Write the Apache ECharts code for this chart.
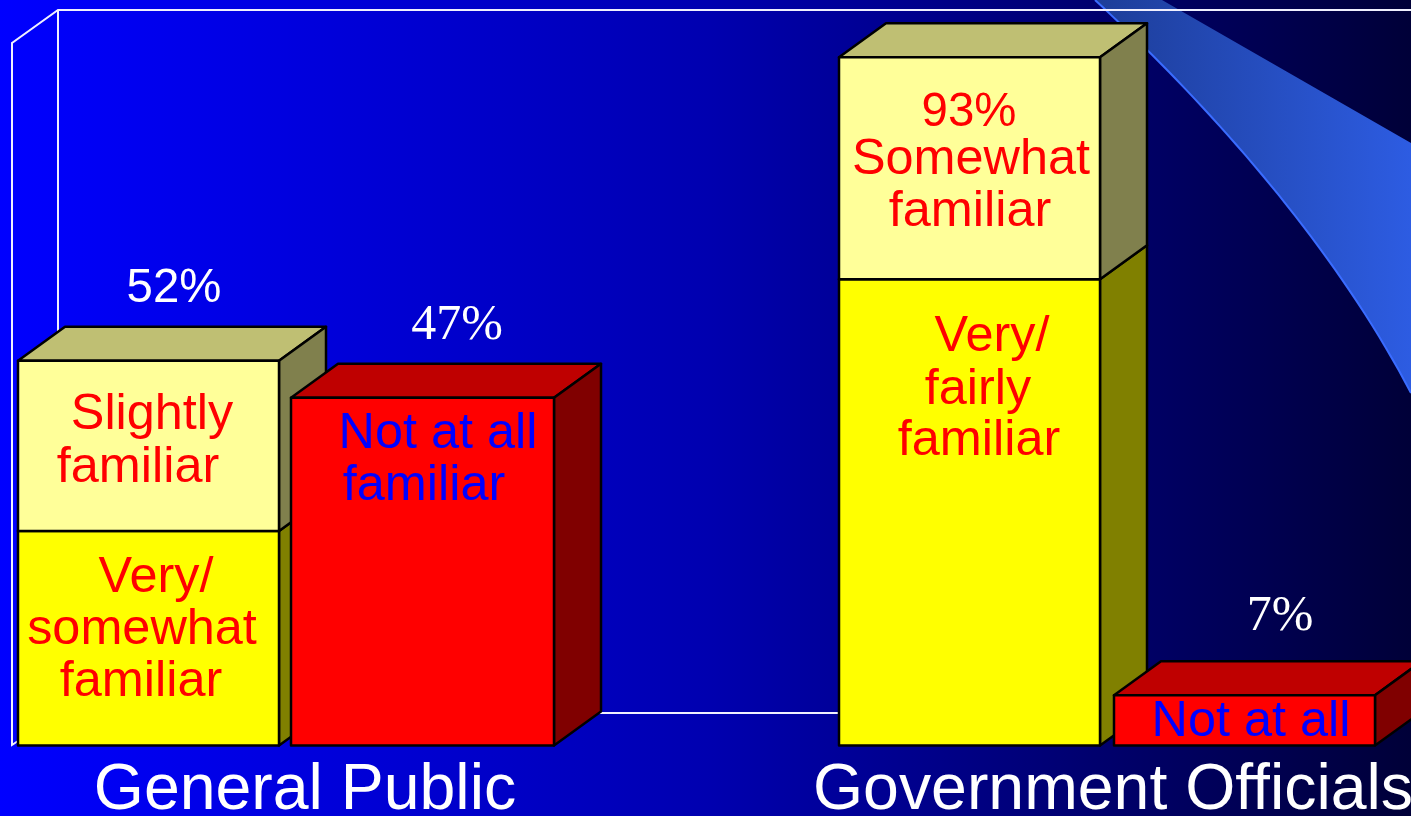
<!DOCTYPE html>
<html>
<head>
<meta charset="utf-8">
<title>Familiarity</title>
<script src="https://cdn.jsdelivr.net/npm/echarts@6/dist/echarts.min.js"></script>
<style>
    html, body {margin: 0; padding: 0; background: #000;}
    #main {width: 1411px; height: 816px;}
</style>
</head>
<body>
<div id="main"></div>
<script>
// values, in percent
let categories = ['General Public', 'Government Officials'];
let veryFamiliar = [29, 63];
let partlyFamiliar = [23, 30];
let notFamiliar = [47, 6.8];

let veryText = [['Very/', 'somewhat', 'familiar'], ['Very/', 'fairly', 'familiar']];
let partlyText = [['Slightly', 'familiar'], ['93%', 'Somewhat', 'familiar']];
let notText = [['Not at all', 'familiar'], ['Not at all']];
let stackTotalText = ['52%', ''];
let notTotalText = ['47%', '7%'];

// layout of the boxes, relative to the category centre
let stackLeft = [-287, -274];
let stackWidth = [261, 261];
let notLeft = [-14, 1];
let notWidth = [263, 261];
let depthX = 47;
let depthY = -34;

// text lines: [centre x from box left, baseline y from box top]
let veryPlace = [[[138, 61], [124, 113.5], [123, 165]], [[153, 72], [139, 125], [140, 176]]];
let partlyPlace = [[[134, 68], [120, 121]], [[130, 69.5], [132, 116.5], [131, 168.5]]];
let notPlace = [[[147, 50], [133, 102]], [[137, 40.5]]];
let stackTotalPlace = [[156, -58], [0, 0]];
let notTotalPlace = [[166, -57.5], [166, -64.5]];

let sansFont = '50.4px "Liberation Sans", Arial, sans-serif';
let percentFont = '47.4px "Liberation Sans", Arial, sans-serif';
let serifFont = '50px "Liberation Serif", "Times New Roman", serif';

function textEl(text, x, y, color, font) {
    return {
        type: 'text',
        z2: 10,
        style: {
            text: text,
            x: x,
            y: y - 14,
            fill: color,
            font: font,
            align: 'center',
            verticalAlign: 'middle'
        }
    };
}

function boxRender(opt) {
    return function (params, api) {
        let i = api.value(0);
        let centre = api.coord([i, 0])[0];
        let left = centre + opt.left[i];
        let right = left + opt.width[i];
        let bottom = api.coord([i, api.value(1)])[1];
        let top = api.coord([i, api.value(2)])[1];
        let line = {stroke: '#000', lineWidth: 2.5, lineJoin: 'round'};
        let children = [
            {
                type: 'polygon',
                shape: {points: [[left, top], [right, top], [right + depthX, top + depthY], [left + depthX, top + depthY]]},
                style: Object.assign({fill: opt.colors[1]}, line)
            },
            {
                type: 'polygon',
                shape: {points: [[right, top], [right + depthX, top + depthY], [right + depthX, bottom + depthY], [right, bottom]]},
                style: Object.assign({fill: opt.colors[2]}, line)
            },
            {
                type: 'rect',
                shape: {x: left, y: top, width: right - left, height: bottom - top},
                style: Object.assign({fill: opt.colors[0]}, line)
            }
        ];
        opt.text[i].forEach(function (t, k) {
            let p = opt.place[i][k];
            let font = t.indexOf('%') > 0 ? percentFont : sansFont;
            children.push(textEl(t, left + p[0], top + p[1], opt.textColor, font));
        });
        if (opt.total && opt.total[i]) {
            let p = opt.totalPlace[i];
            children.push(textEl(opt.total[i], left + p[0], top + p[1], '#fff', opt.totalFont));
        }
        return {type: 'group', children: children};
    };
}

// lower edge of the swoosh behind the chart, a single cubic curve
function swooshEdge() {
    let pts = [];
    for (let k = 0; k <= 40; k++) {
        let t = k / 40, u = 1 - t;
        pts.push([
            u * u * u * 1095 + 3 * u * u * t * 1200 + 3 * u * t * t * 1330 + t * t * t * 1411,
            3 * u * u * t * 97 + 3 * u * t * t * 238 + t * t * t * 393
        ]);
    }
    return pts;
}

let myChart = echarts.init(document.getElementById('main'));
let option = {
    animation: false,
    backgroundColor: {
        type: 'linear', x: 0, y: 0, x2: 1, y2: 0,
        colorStops: [{offset: 0, color: '#0000ff'}, {offset: 0.5, color: '#0000b0'}, {offset: 1, color: '#000038'}]
    },
    grid: {left: -99, width: 1616, top: 5.5, height: 740, outerBoundsMode: 'none'},
    xAxis: {
        type: 'category',
        data: categories,
        axisLine: {show: false},
        axisTick: {show: false},
        axisLabel: {
            interval: 0,
            color: '#fff',
            fontSize: 64.4,
            fontFamily: '"Liberation Sans", Arial, sans-serif',
            margin: 14
        }
    },
    yAxis: {type: 'value', min: 0, max: 100, show: false},
    // backdrop: the swoosh and the frame of the 3d wall
    graphic: [
        {
            type: 'polygon',
            z: 0,
            shape: {points: swooshEdge().concat([[1411, 143], [1162, 0]])},
            style: {
                fill: {
                    type: 'linear', x: 1095, y: 0, x2: 1411, y2: 0, global: true,
                    colorStops: [{offset: 0, color: '#1d3d98'}, {offset: 1, color: '#2d5ce2'}]
                }
            }
        },
        {
            type: 'polyline',
            z: 0,
            shape: {points: swooshEdge()},
            style: {stroke: '#3a6cff', lineWidth: 2, fill: null}
        },
        {
            type: 'polyline',
            z: 0,
            shape: {points: [[18, 741], [12, 745], [12, 43], [58, 10], [1411, 10]]},
            style: {stroke: '#f0f0ff', lineWidth: 2, fill: null}
        },
        {
            type: 'polyline',
            z: 0,
            shape: {points: [[58, 10], [58, 713], [1411, 713]]},
            style: {stroke: '#f0f0ff', lineWidth: 2, fill: null}
        }
    ],
    series: [
        {
            name: 'Very familiar',
            type: 'custom',
            z: 3,
            encode: {x: 0, y: [1, 2]},
            data: categories.map(function (c, i) {
                return [i, 0, veryFamiliar[i]];
            }),
            renderItem: boxRender({
                left: stackLeft, width: stackWidth,
                colors: ['#ffff00', '#bfbf00', '#808000'],
                text: veryText, place: veryPlace, textColor: '#ff0000'
            })
        },
        {
            name: 'Slightly or somewhat familiar',
            type: 'custom',
            z: 4,
            encode: {x: 0, y: [1, 2]},
            data: categories.map(function (c, i) {
                return [i, veryFamiliar[i], veryFamiliar[i] + partlyFamiliar[i]];
            }),
            renderItem: boxRender({
                left: stackLeft, width: stackWidth,
                colors: ['#ffff99', '#bfbf73', '#80804d'],
                text: partlyText, place: partlyPlace, textColor: '#ff0000',
                total: stackTotalText, totalPlace: stackTotalPlace, totalFont: percentFont
            })
        },
        {
            name: 'Not at all familiar',
            type: 'custom',
            z: 5,
            encode: {x: 0, y: [1, 2]},
            data: categories.map(function (c, i) {
                return [i, 0, notFamiliar[i]];
            }),
            renderItem: boxRender({
                left: notLeft, width: notWidth,
                colors: ['#ff0000', '#bf0000', '#800000'],
                text: notText, place: notPlace, textColor: '#0000ff',
                total: notTotalText, totalPlace: notTotalPlace, totalFont: serifFont
            })
        }
    ]
};
myChart.setOption(option);
</script>
</body>
</html>
